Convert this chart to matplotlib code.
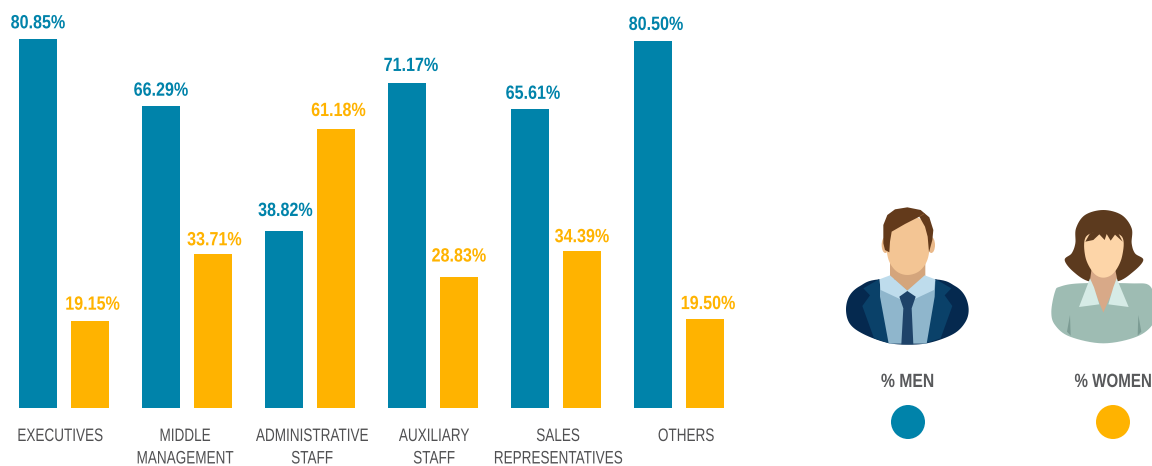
import numpy as np
import matplotlib
matplotlib.use("Agg")
import matplotlib.pyplot as plt
from matplotlib.text import Text
from matplotlib.transforms import Affine2D, Bbox
from matplotlib.patheffects import AbstractPathEffect
from matplotlib.patches import Polygon, Circle, Ellipse

categories = ["EXECUTIVES", "MIDDLE\nMANAGEMENT", "ADMINISTRATIVE\nSTAFF",
              "AUXILIARY\nSTAFF", "SALES\nREPRESENTATIVES", "OTHERS"]
men = [80.85, 66.29, 38.82, 71.17, 65.61, 80.50]
women = [19.15, 33.71, 61.18, 28.83, 34.39, 19.50]

BLUE, AMBER = "#0083AA", "#FFB300"
FAMILY = ["Liberation Sans", "DejaVu Sans"]
W, H, DPI = 1152, 466, 100
YSCALE = 4.56
XSTEP = 123.0

fig = plt.figure(figsize=(W / DPI, H / DPI), dpi=DPI, facecolor="white")


class _Squeeze(AbstractPathEffect):
    """Draws a text's glyphs narrower, about the middle of the text."""

    def __init__(self, owner, factor):
        super().__init__()
        self.owner, self.factor = owner, factor

    def draw_path(self, renderer, gc, tpath, affine, rgbFace=None):
        cx = self.owner.full_extent(renderer).x0 + self.owner.full_extent(renderer).width / 2
        squeeze = Affine2D().translate(-cx, 0).scale(self.factor, 1).translate(cx, 0)
        renderer.draw_path(gc, tpath, affine + squeeze, rgbFace)


class CondensedText(Text):
    def __init__(self, *args, factor=1.0, **kwargs):
        super().__init__(*args, **kwargs)
        self.factor = factor
        self.set_path_effects([_Squeeze(self, factor)])

    def full_extent(self, renderer=None):
        return Text.get_window_extent(self, renderer)

    def get_window_extent(self, renderer=None, dpi=None):
        b = Text.get_window_extent(self, renderer, dpi)
        cx = (b.x0 + b.x1) / 2
        hw = b.width * self.factor / 2
        return Bbox.from_extents(cx - hw, b.y0, cx + hw, b.y1)


def put(axes, x_, y_, s, **kw):
    t = CondensedText(x_, y_, s, transform=axes.transData, clip_on=False, **kw)
    axes.add_artist(t)
    return t


# chart: axes bottom is the bar baseline, 408 px from the top
ax = fig.add_axes([0, (H - 408) / H, 1, 408 / H])
bw, off = 38 / XSTEP, 26 / XSTEP
ax.set_xlim(-64 / XSTEP, (W - 64) / XSTEP)
ax.set_ylim(0, 408 / YSCALE)
x = np.arange(len(categories))
ax.bar(x - off, men, bw, color=BLUE)
ax.bar(x + off, women, bw, color=AMBER)
for s in ax.spines.values():
    s.set_visible(False)
ax.set_yticks([])
ax.set_xticks([])
ax.patch.set_alpha(0)

label_nudge = [-4, -2, 2, 1, 2, 7]
for xi, name, nudge in zip(x, categories, label_nudge):
    put(ax, xi + nudge / XSTEP, -20 / YSCALE, name, ha="center", va="top", fontsize=13,
        family=FAMILY, color="#505052", linespacing=1.42, factor=0.75)

# hand placement of the value labels in the original, in pixels
men_dx, men_dy = [0, 0, 1.5, 4, 3, 3], [0, -1, 4, 1.5, -1, 0]
women_dx, women_dy = [2.5, 1.5, 2.5, 0, 0, 3], [0, -2, 2, 4, -2, -1]
for i, xi in enumerate(x):
    for pos, val, col, dx, dy in ((xi - off, men[i], BLUE, men_dx[i], men_dy[i]),
                                  (xi + off, women[i], AMBER, women_dx[i], women_dy[i])):
        put(ax, pos + dx / XSTEP, val + (7 + dy) / YSCALE, f"{val:.2f}%", ha="center", va="bottom",
            fontsize=13.8, fontweight="bold", family=FAMILY, color=col, factor=0.84)

# decorative overlay in pixel coordinates
ov = fig.add_axes([0, 0, 1, 1])
ov.set_xlim(0, W)
ov.set_ylim(H, 0)
ov.axis("off")
ov.patch.set_alpha(0)


def smooth(pts, n=8):
    """Closed Catmull-Rom curve through the given outline points."""
    p = np.asarray(pts, float)
    out = []
    for i in range(len(p)):
        p0, p1, p2, p3 = p[i - 1], p[i], p[(i + 1) % len(p)], p[(i + 2) % len(p)]
        for t in np.linspace(0, 1, n, endpoint=False):
            out.append(0.5 * (2 * p1 + (p2 - p0) * t + (2 * p0 - 5 * p1 + 4 * p2 - p3) * t ** 2
                              + (3 * p1 - p0 - 3 * p2 + p3) * t ** 3))
    return np.array(out)


def shape(pts, color, origin, round_=False):
    p = np.asarray(pts, float)
    if round_:
        p = smooth(p)
    p = p / 3 + np.asarray(origin)
    ov.add_patch(Polygon(p, closed=True, fc=color, ec="none"))


def mirror(pts, cx):
    return [(2 * cx - a, b) for a, b in pts]


# man
O = (830, 200)
shape([(148, 238), (90, 258), (58, 288), (48, 330), (60, 372), (100, 402), (170, 428),
       (235, 434), (300, 428), (370, 402), (405, 368), (416, 330), (405, 288), (375, 258),
       (317, 238)], "#05294F", O, True)
lapel = [(148, 237), (100, 265), (120, 286), (97, 318), (132, 415), (178, 430), (152, 290)]
shape(lapel, "#0A4169", O)
shape(mirror(lapel, 232), "#0A4169", O)
shape([(150, 240), (150, 290), (176, 431), (290, 431), (314, 290), (316, 240)], "#8FB6CC", O)
shape([(180, 185), (180, 228), (232, 272), (286, 228), (286, 185)], "#D4A57C", O)
collar = [(180, 226), (148, 238), (152, 270), (216, 300), (232, 272)]
shape(collar, "#BEDCEC", O)
shape(mirror(collar, 232), "#BEDCEC", O)
shape([(208, 290), (232, 273), (257, 290), (245, 325), (250, 433), (214, 433), (220, 325)],
      "#1E4369", O)
for ex in (166, 304):
    ov.add_patch(Ellipse((O[0] + ex / 3, O[1] + 135 / 3), 22 / 3, 48 / 3, fc="#EAB98A", ec="none"))
shape([(172, 80), (172, 165), (195, 210), (232, 225), (272, 210), (296, 165), (296, 80), (232, 45)],
      "#F3C594", O, True)
shape([(160, 130), (160, 75), (172, 45), (195, 28), (232, 22), (272, 30), (298, 52), (310, 90),
       (307, 120), (297, 157), (293, 110), (285, 80), (268, 50), (225, 72), (185, 95),
       (180, 125), (178, 157), (165, 150)], "#633A1B", O)
ov.plot([O[0] + 268 / 3, O[0] + 283 / 3], [O[1] + 50 / 3, O[1] + 41 / 3], color="#8A5A30", lw=0.6)

# woman
O = (1040, 200)
shape([(60, 260), (120, 250), (270, 250), (330, 258), (345, 320), (340, 370), (290, 410),
       (190, 430), (90, 410), (45, 375), (34, 335), (45, 275)], "#9EBCB3", O, True)
for pts in ([(90, 345), (81, 395), (92, 407)], [(295, 345), (304, 395), (293, 407)]):
    shape(pts, "#7C9C94", O)
shape([(190, 30), (135, 45), (108, 85), (106, 130), (95, 160), (74, 180), (100, 215), (150, 245),
       (230, 245), (280, 215), (310, 180), (285, 160), (275, 130), (275, 85), (245, 45)],
      "#5C3A1E", O, True)
shape([(155, 205), (150, 240), (190, 338), (232, 240), (225, 205)], "#D8A988", O)
shape([(150, 235), (117, 321), (178, 313), (162, 262)], "#D6EBE6", O)
shape([(230, 235), (266, 321), (205, 313), (220, 262)], "#D6EBE6", O)
shape([(138, 110), (136, 170), (160, 218), (190, 233), (222, 218), (246, 170), (246, 110), (190, 95)],
      "#FDD5A8", O, True)
shape([(136, 125), (150, 100), (190, 85), (235, 100), (248, 125), (225, 104), (212, 122),
       (200, 102), (194, 120), (178, 103), (160, 120)], "#5C3A1E", O)

# legend
LEG = "#58595B"
put(ov, 907.5, 382.5, "% MEN", ha="center", va="center", fontsize=13.8, fontweight="bold",
    family=FAMILY, color=LEG, factor=0.82)
put(ov, 1113, 382.5, "% WOMEN", ha="center", va="center", fontsize=13.8, fontweight="bold",
    family=FAMILY, color=LEG, factor=0.79)
ov.add_patch(Circle((908, 422), 17, fc=BLUE, ec="none"))
ov.add_patch(Circle((1113, 422), 17, fc=AMBER, ec="none"))

fig.savefig("out.png", dpi=DPI)
